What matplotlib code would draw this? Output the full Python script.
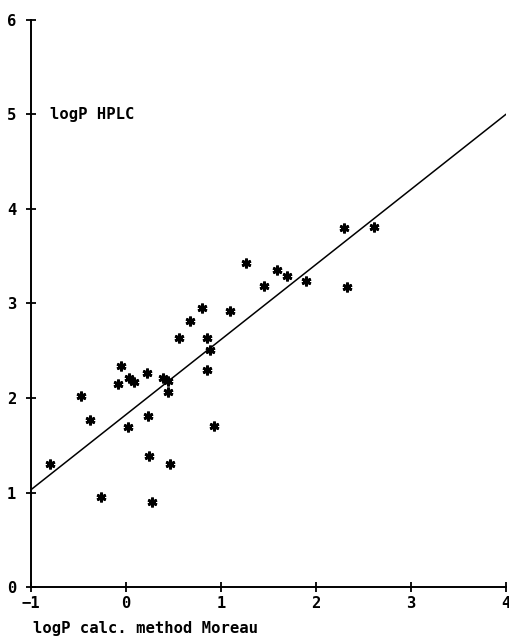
import matplotlib.pyplot as plt
import numpy as np

# logP calculated (Moreau) vs logP HPLC
logp_calc = [-0.80, -0.47, -0.38, -0.26, -0.08, -0.05, 0.02, 0.03, 0.08,
             0.22, 0.23, 0.245, 0.27, 0.385, 0.44, 0.44, 0.46, 0.56,
             0.67, 0.80, 0.85, 0.85, 0.89, 0.93, 1.10, 1.26, 1.45,
             1.59, 1.70, 1.90, 2.30, 2.33, 2.61]
logp_hplc = [1.30, 2.02, 1.77, 0.95, 2.15, 2.34, 1.69, 2.21, 2.17,
             2.26, 1.81, 1.39, 0.90, 2.21, 2.18, 2.06, 1.30, 2.63,
             2.81, 2.95, 2.64, 2.30, 2.51, 1.70, 2.92, 3.43, 3.19,
             3.35, 3.29, 3.24, 3.80, 3.17, 3.81]

# regression line end points
line_x = [-1, 4]
line_y = [1.03, 5.0]

x_ticks = [-1, 0, 1, 2, 3, 4]
y_ticks = [0, 1, 2, 3, 4, 5, 6]


def main():
    fig = plt.figure(figsize=(5.1, 6.38), dpi=100)
    ax = fig.add_axes([0.0608, 0.0799, 0.9308, 0.8888])

    font = dict(family="DejaVu Sans Mono", weight="bold", size=11.2)

    ax.plot(line_x, line_y, color="black", lw=1.1)
    ax.plot(logp_calc, logp_hplc, linestyle="none", marker=(6, 2, 0),
            markersize=7, markeredgewidth=2.0, color="black")

    ax.set_xlim(-1, 4)
    ax.set_ylim(0, 6)
    ax.set_xticks(x_ticks)
    ax.set_yticks(y_ticks)
    ax.set_xticklabels([str(v).replace("-", "\u2212") for v in x_ticks], **font)
    ax.set_yticklabels([str(v) for v in y_ticks], **font)
    ax.tick_params(direction="inout", length=7, width=1.3, pad=7)
    ax.tick_params(axis="x", pad=3)

    for s in ["top", "right"]:
        ax.spines[s].set_visible(False)
    for s in ["left", "bottom"]:
        ax.spines[s].set_linewidth(1.4)

    ax.text(-0.8, 5.0, "logP HPLC", va="center", ha="left", **font)
    fig.text(33 / 510, 1 - 628 / 638, "logP calc. method Moreau",
             va="center", ha="left", **font)

    fig.savefig("out.png", dpi=100)


if __name__ == "__main__":
    main()
